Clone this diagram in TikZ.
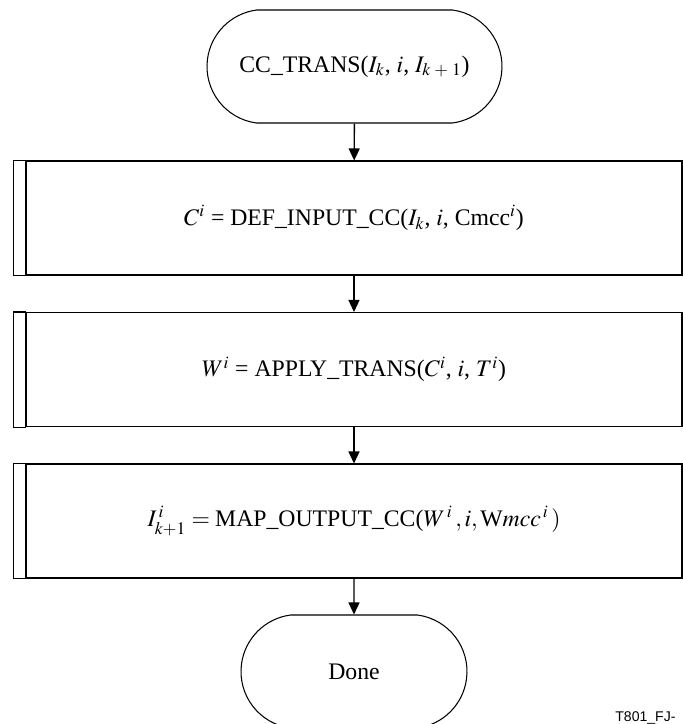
\documentclass[tikz,border=0pt]{standalone}
\usepackage{mathptmx}
\usepackage{fontspec}
\setmainfont{Liberation Serif}
\newfontfamily\tagfont{Liberation Sans}
\usepackage{tikz}
\usetikzlibrary{
    arrows.meta,
    positioning,
    shapes.misc
}

\begin{document}
\begin{tikzpicture}[
    terminal/.style={rounded rectangle, rounded rectangle arc length=165, draw, line width=0.6pt, minimum width=#1, minimum height=2.26cm, inner sep=0pt, font=\fontsize{13.5}{15}\selectfont},
    procbox/.style={rectangle, draw, line width=0.6pt, minimum width=13.12cm, minimum height=2.28cm, inner sep=0pt, font=\fontsize{13.5}{15}\selectfont},
    flow/.style={-{Triangle[length=0.24cm, width=0.22cm]}, line width=0.8pt},
]
    \useasboundingbox (0,0) rectangle (13.66,-14.48);
    \clip (0,0) rectangle (13.66,-14.48);

    % Start
    \node[terminal=5.9cm] (start) at (7.09,-1.33) {CC\_TRANS($I_k$, $i$, $I_{k\;+\;1}$)};

    % Input mapping
    \node[procbox] (defin) at (7.08,-4.36) {$C^i$ = DEF\_INPUT\_CC($I_k$, $i$, Cmcc$^i$)};
    \draw[line width=0.6pt] ([xshift=-0.24cm]defin.north west) rectangle (defin.south west);

    % Transform
    \node[procbox] (apply) at (7.08,-7.39) {$W^i$ = APPLY\_TRANS($C^i$, $i$, $T^i$)};
    \draw[line width=0.6pt] ([xshift=-0.24cm]apply.north west) rectangle (apply.south west);

    % Output mapping
    \node[procbox] (mapout) at (7.08,-10.42) {$I^{\,i}_{k+1} = \mbox{MAP\_OUTPUT\_CC(}W^{\,i}\,,i, \mbox{W}mcc^{\,i}\,)$};
    \draw[line width=0.6pt] ([xshift=-0.24cm]mapout.north west) rectangle (mapout.south west);

    % End
    \node[terminal=4.52cm] (done) at (7.08,-13.43) {Done};

    % Connectors
    \draw[flow] (start) -- (defin);
    \draw[flow] (defin) -- (apply);
    \draw[flow] (apply) -- (mapout);
    \draw[flow] (mapout) -- (done);

    % Figure tag
    \node[anchor=base west, inner sep=0pt, font=\tagfont\fontsize{8}{9}\selectfont] (tag) at (12.3,-14.42) {T801\_FJ-};

\end{tikzpicture}
\end{document}
